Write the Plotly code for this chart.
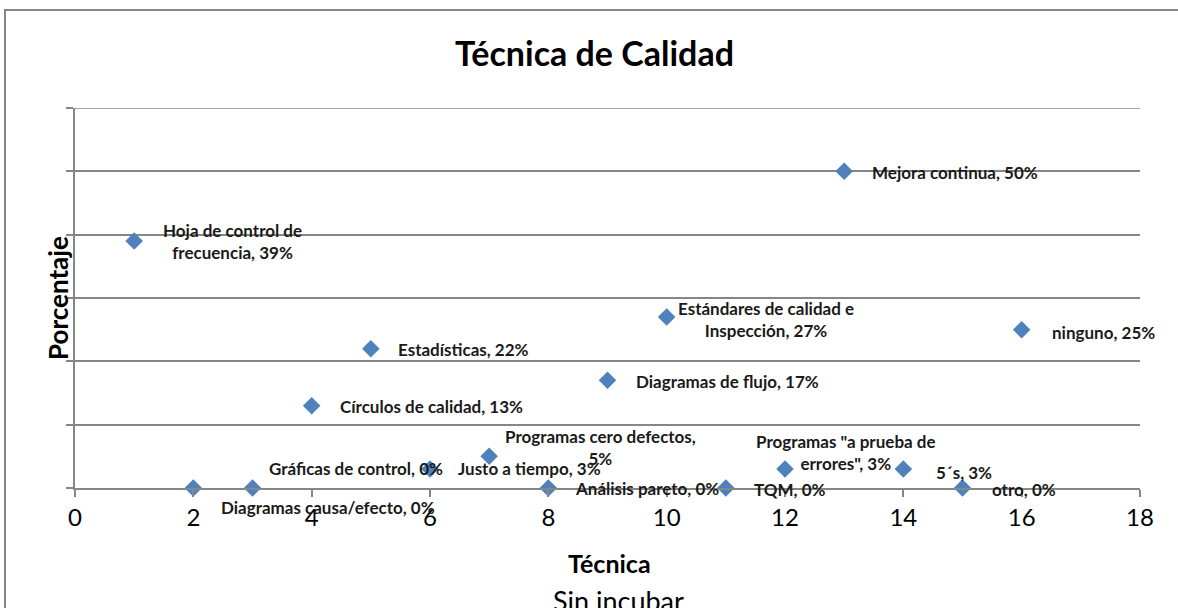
import plotly.graph_objects as go

# Data
tecnica = [1, 2, 3, 4, 5, 6, 7, 8, 9, 10, 11, 12, 13, 14, 15, 16]
porcentaje = [39, 0, 0, 13, 22, 3, 5, 0, 17, 27, 0, 3, 50, 3, 0, 25]
etiquetas = [
    "Hoja de control de<br>frecuencia, 39%",
    "Diagramas causa/efecto, 0%",
    "Gráficas de control, 0%",
    "Círculos de calidad, 13%",
    "Estadísticas, 22%",
    "Justo a tiempo, 3%",
    "Programas cero defectos,<br>5%",
    "Análisis pareto, 0%",
    "Diagramas de flujo, 17%",
    "Estándares de calidad e<br>Inspección, 27%",
    "TQM, 0%",
    "Programas \"a prueba de<br>errores\", 3%",
    "Mejora continua, 50%",
    "5´s, 3%",
    "otro, 0%",
    "ninguno, 25%",
]
# label placement: (xanchor, xshift px, yshift px)
placement = [
    ("center", 98, 0),
    ("center", 135, -19),
    ("center", 103, 20),
    ("left", 26, -1),
    ("left", 25, -1),
    ("left", 26, 1),
    ("center", 111, 9),
    ("left", 25, 0),
    ("left", 26, -1),
    ("center", 99, -2),
    ("left", 26, -1),
    ("center", 61, 17),
    ("left", 26, -1),
    ("left", 31, -3),
    ("left", 27, -1),
    ("left", 28, -3),
]

FONT = "Lato"
GRID = "#868686"
Y_MAX = 60

fig = go.Figure()
fig.add_trace(go.Scatter(
    x=tecnica, y=porcentaje, mode="markers", cliponaxis=False,
    marker=dict(symbol="diamond", size=13.5, color="#4F81BD",
                line=dict(width=0)),
    showlegend=False, hoverinfo="skip",
))

annotations = []
for xv, yv, txt, (anc, xs, ys) in zip(tecnica, porcentaje, etiquetas, placement):
    annotations.append(dict(
        x=xv, y=yv, xref="x", yref="y", text="<b>" + txt + "</b>",
        showarrow=False, xanchor=anc, yanchor="middle", align="center",
        xshift=xs, yshift=ys,
        font=dict(family=FONT, size=17, color="#1a1a1a"),
    ))

annotations += [
    dict(text="<b>Técnica de Calidad</b>", x=0.488, y=1.145, xref="paper", yref="paper",
         showarrow=False, xanchor="center", yanchor="middle",
         font=dict(family=FONT, size=34, color="black")),
    dict(text="<b>Técnica</b>", x=(609 - 75) / 1065, y=-0.197, xref="paper", yref="paper",
         showarrow=False, xanchor="center", yanchor="middle",
         font=dict(family=FONT, size=25, color="black")),
    dict(text="Sin incubar", x=(618 - 75) / 1065, y=-0.297, xref="paper", yref="paper",
         showarrow=False, xanchor="center", yanchor="middle",
         font=dict(family=FONT, size=27, color="black")),
    dict(text="<b>Porcentaje</b>", x=-0.016, y=0.5, xref="paper", yref="paper",
         showarrow=False, xanchor="center", yanchor="middle", textangle=-90,
         font=dict(family=FONT, size=26, color="black")),
]

fig.update_layout(
    width=1178, height=608,
    margin=dict(l=75, r=38, t=108, b=120),
    paper_bgcolor="white", plot_bgcolor="white",
    annotations=annotations,
    shapes=[
        dict(type="rect", xref="paper", yref="paper",
             x0=(5 - 75) / 1065, x1=1.2, y0=-0.5, y1=(488 - 10) / 380,
             line=dict(color=GRID, width=2), layer="below"),
        dict(type="line", xref="paper", yref="y", x0=0, x1=1, y0=Y_MAX, y1=Y_MAX,
             line=dict(color=GRID, width=1.5), layer="below"),
    ],
    xaxis=dict(range=[0, 18], dtick=2, tick0=0, showgrid=False, zeroline=False,
               showline=True, linecolor=GRID, linewidth=1.5,
               ticks="outside", ticklen=7, tickcolor=GRID, tickwidth=1.5,
               tickfont=dict(family=FONT, size=24, color="black")),
    yaxis=dict(range=[0, Y_MAX], dtick=10, tick0=0, showgrid=True, gridcolor=GRID,
               gridwidth=1.5, zeroline=False, showline=True, linecolor=GRID,
               linewidth=1.5, ticks="outside", ticklen=7, tickcolor=GRID,
               tickwidth=1.5, showticklabels=False),
)

fig.write_html("out.html", config={"displayModeBar": False},
               post_script="document.body.style.margin='0';document.body.style.overflow='hidden';")
